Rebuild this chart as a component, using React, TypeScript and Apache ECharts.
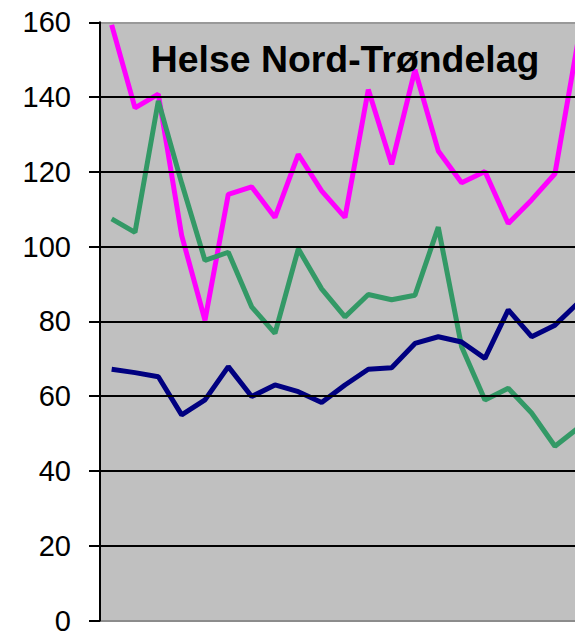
import React, { useEffect, useRef } from "react";
import * as echarts from "echarts";

const TITLE = "Helse Nord-Trøndelag";
const Y_TICKS = [0, 20, 40, 60, 80, 100, 120, 140, 160];
const POINT_INDEX = [0, 1, 2, 3, 4, 5, 6, 7, 8, 9, 10, 11, 12, 13, 14, 15, 16, 17, 18, 19, 20];

const magentaValues = [159.3, 137.1, 140.8, 103, 80.3, 114.0, 116.0, 107.8, 124.7, 114.9, 107.8, 142.0, 122.0, 147.3, 125.6, 117.1, 120.1, 106.2, 112.5, 119.5, 155.4];
const greenValues = [107.4, 103.8, 139.0, 117, 96.3, 98.5, 83.9, 76.8, 99.4, 88.7, 81.2, 87.2, 85.8, 87.0, 105.2, 73.2, 59.0, 62.1, 55.5, 46.6, 51.5];
const navyValues = [67.2, 66.3, 65.2, 55.0, 59.0, 67.9, 59.9, 63.0, 61.2, 58.3, 63.0, 67.2, 67.6, 74.1, 75.9, 74.5, 70.1, 83.1, 75.9, 79.0, 85.0];

const FONT = "'Liberation Sans', Arial, sans-serif";

export default function App() {
  const ref = useRef<HTMLDivElement>(null);

  useEffect(() => {
    if (!ref.current) return;
    const chart = echarts.init(ref.current, undefined, { renderer: "svg" });
    const pair = (vals: number[]) => POINT_INDEX.map((i) => [i, vals[i]]);
    const gridLeft = 100;
    const plotWidth = 575 - gridLeft;
    const step = 23.33;
    const xMax = -0.5 + plotWidth / step;

    const lineSeries = (name: string, vals: number[], color: string) => ({
      name,
      type: "line",
      data: pair(vals),
      symbol: "none",
      clip: true,
      lineStyle: { color, width: 5 },
      z: 3,
    });

    chart.setOption({
      animation: false,
      backgroundColor: "#ffffff",
      grid: {
        left: gridLeft,
        right: 0,
        top: 22.3,
        bottom: 11.7,
        show: true,
        backgroundColor: "#c0c0c0",
        borderWidth: 0,
      },
      xAxis: [
        {
          type: "value",
          min: -0.5,
          max: xMax,
          position: "bottom",
          axisLine: { show: true, onZero: false, lineStyle: { color: "#8c8c8c", width: 2 } },
          axisTick: { show: false },
          axisLabel: { show: false },
          splitLine: { show: false },
        },
        {
          type: "value",
          min: -0.5,
          max: xMax,
          position: "top",
          axisLine: { show: true, onZero: false, lineStyle: { color: "#999999", width: 2 } },
          axisTick: { show: false },
          axisLabel: { show: false },
          splitLine: { show: false },
        },
      ],
      yAxis: {
        type: "value",
        min: Y_TICKS[0],
        max: Y_TICKS[Y_TICKS.length - 1],
        interval: 20,
        position: "left",
        axisLine: { show: true, onZero: false, lineStyle: { color: "#000000", width: 2 } },
        axisTick: { show: true, inside: false, length: 11, lineStyle: { color: "#000000", width: 2 } },
        axisLabel: {
          color: "#000000",
          fontSize: 29,
          fontFamily: FONT,
          margin: 29,
        },
        splitLine: {
          show: true,
          showMinLine: false,
          showMaxLine: false,
          lineStyle: { color: "#000000", width: 2 },
        },
        z: 4,
      },
      graphic: [
        {
          type: "text",
          x: 345,
          y: 59,
          z: 10,
          style: {
            text: TITLE,
            fill: "#000000",
            font: `bold 37.4px ${FONT}`,
            textAlign: "center",
            textVerticalAlign: "middle",
          },
        },
      ],
      series: [
        lineSeries("Magenta", magentaValues, "#ff00ff"),
        lineSeries("Grønn", greenValues, "#339966"),
        lineSeries("Blå", navyValues, "#000080"),
      ],
    });

    return () => chart.dispose();
  }, []);

  return (
    <div
      ref={ref}
      style={{ position: "fixed", left: 0, top: 0, width: 575, height: 635, overflow: "hidden" }}
    />
  );
}
